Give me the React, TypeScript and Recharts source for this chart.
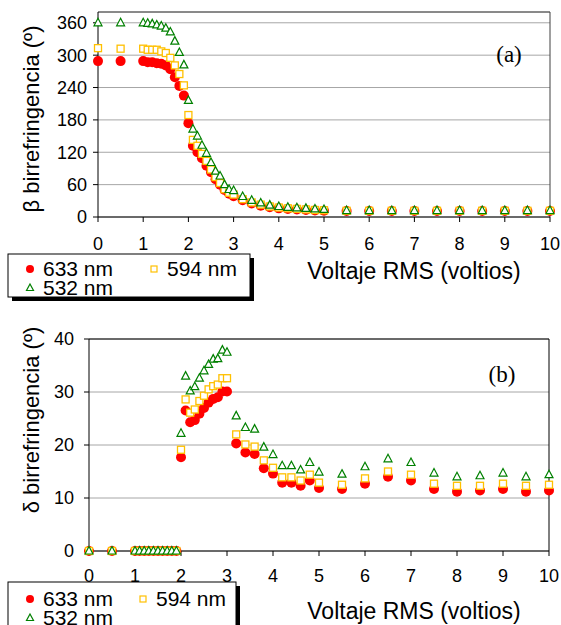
import { CartesianGrid, ReferenceLine, Scatter, ScatterChart, XAxis, YAxis } from "recharts";

// voltaje RMS (V), same sweep for both panels
const volts = [
  0, 0.5, 1.0, 1.1, 1.2, 1.3, 1.4, 1.5, 1.6, 1.7, 1.8, 1.9, 2.0, 2.1, 2.2, 2.3, 2.4, 2.5, 2.6, 2.7,
  2.8, 2.9, 3.0, 3.2, 3.4, 3.6, 3.8, 4.0, 4.2, 4.4, 4.6, 4.8, 5.0, 5.5, 6.0, 6.5, 7.0, 7.5, 8.0,
  8.5, 9.0, 9.5, 10,
];

// (a) beta birrefringencia
const beta633 = [
  289, 289, 289, 287, 287, 285, 284, 281, 274, 259, 243, 225, 174, 132, 120, 109, 95, 83, 70, 60,
  50, 43, 38.5, 31, 25, 21, 18, 16, 15, 14, 13, 12, 11.5, 11, 11, 11, 11, 11, 11, 11, 11, 11, 11,
];
const beta594 = [
  313, 312, 312, 310, 310, 310, 307, 304, 295, 281, 265, 244, 189, 143, 132, 117, 104, 88, 74, 63,
  51.5, 45, 41.6, 33, 27, 23, 19.5, 17.5, 16, 15, 14, 13, 12.5, 11.5, 11.5, 11.5, 11.5, 11.5, 11.5,
  11.5, 11.5, 11.5, 11.5,
];
const beta532 = [
  360, 360, 360, 359, 358, 356, 354, 350, 343, 326, 305, 282, 216, 163, 150, 133, 118, 101, 85, 76,
  60, 51, 49, 38, 31, 26, 22, 19.5, 18, 17, 16, 15, 14, 12, 12, 12, 12, 12, 12, 12, 12, 12, 12,
];

// (b) delta birrefringencia
const delta633 = [
  0, 0, 0, 0, 0, 0, 0, 0, 0, 0, 0, 0, 17.7, 26.5, 24.3, 24.7, 25.9, 27.0, 28.0, 28.7, 29.0, 30.1,
  30.1, 20.3, 18.6, 18.3, 15.6, 14.6, 12.9, 12.9, 12.3, 13.3, 11.9, 11.7, 12.7, 14.0, 13.3, 11.7,
  11.2, 11.4, 11.7, 11.2, 11.4,
];
const delta594 = [
  0, 0, 0, 0, 0, 0, 0, 0, 0, 0, 0, 0, 19.1, 28.6, 26.1, 26.7, 28.3, 29.3, 30.5, 31.1, 31.4, 32.6,
  32.6, 22.0, 20.1, 19.7, 17.1, 15.7, 13.9, 13.9, 13.3, 14.4, 12.9, 12.5, 13.7, 15.0, 14.4, 12.7,
  12.3, 12.3, 12.7, 12.3, 12.5,
];
const delta532 = [
  0, 0, 0, 0, 0, 0, 0, 0, 0, 0, 0, 0, 22.2, 33.0, 30.2, 31.0, 32.6, 34.0, 35.2, 36.2, 36.3, 37.9,
  37.5, 25.5, 23.3, 23.0, 19.6, 18.2, 16.1, 16.1, 15.3, 16.7, 14.9, 14.5, 15.9, 17.4, 16.7, 14.7,
  14.0, 14.2, 14.7, 14.0, 14.4,
];

const xTicks = [0, 1, 2, 3, 4, 5, 6, 7, 8, 9, 10];
const betaTicks = [0, 60, 120, 180, 240, 300, 360];
const deltaTicks = [0, 10, 20, 30, 40];
const seriesNames = ["633 nm", "594 nm", "532 nm"];

const font = "Arial, 'Liberation Sans', sans-serif";
const serif = "'Times New Roman', 'Liberation Serif', serif";
const RED = "#ff0000";
const YEL = "#ffc000";
const GRN = "#008000";

const pts = (ys: number[]) => volts.map((v, i) => ({ v, y: ys[i] }));

const Dot = (p: any) => <circle cx={p.cx} cy={p.cy} r={5} fill={RED} />;
const Sq = (p: any) => (
  <rect x={p.cx - 3.5} y={p.cy - 3.5} width={7} height={7} fill="#fff" stroke={YEL} strokeWidth={1.3} />
);
const Tri = (p: any) => (
  <polygon
    points={`${p.cx},${p.cy - 4.5} ${p.cx + 4},${p.cy + 3} ${p.cx - 4},${p.cy + 3}`}
    fill="#fff"
    stroke={GRN}
    strokeWidth={1.2}
  />
);

const tick = { fill: "#000", fontSize: 18, fontFamily: font };
const axisProps = {
  tick,
  tickSize: 5,
  interval: 0 as const,
  axisLine: { stroke: "#000" },
  tickLine: { stroke: "#000" },
};

function LegendBox({ x, y, w, h, sqX, row1, row2 }: any) {
  return (
    <g fontFamily={font} fontSize={21} fill="#000">
      <rect x={x + 4} y={y + 4} width={w} height={h} fill="#000" />
      <rect x={x} y={y} width={w} height={h} fill="#fff" stroke="#000" strokeWidth={1} />
      <circle cx={30} cy={row1 - 7} r={4} fill={RED} />
      <text x={43} y={row1}>{seriesNames[0]}</text>
      <rect x={sqX - 3} y={row1 - 10} width={6} height={6} fill="#fff" stroke={YEL} strokeWidth={1.2} />
      <text x={sqX + 13} y={row1}>{seriesNames[1]}</text>
      <polygon
        points={`30,${row2 - 11} 33.5,${row2 - 4.5} 26.5,${row2 - 4.5}`}
        fill="#fff"
        stroke={GRN}
        strokeWidth={1.2}
      />
      <text x={43} y={row2}>{seriesNames[2]}</text>
    </g>
  );
}

export default function App() {
  return (
    <div
      style={{
        position: "absolute",
        left: 0,
        top: 0,
        width: 561,
        height: 625,
        overflow: "hidden",
        background: "#fff",
        fontFamily: font,
      }}
    >
      <div style={{ position: "absolute", left: 0, top: 0 }}>
        <ScatterChart width={561} height={262} margin={{ top: 12, right: 11, bottom: 0, left: 0 }}>
          <CartesianGrid vertical={false} stroke="#a6a6a6" />
          <XAxis type="number" dataKey="v" domain={[0, 10]} ticks={xTicks} height={45} tickMargin={15} {...axisProps} />
          <YAxis type="number" dataKey="y" domain={[0, 380]} ticks={betaTicks} width={98} tickMargin={6} {...axisProps} />
          <ReferenceLine y={380} stroke="#404040" />
          <ReferenceLine x={10} stroke="#404040" />
          <Scatter data={pts(beta633)} shape={Dot} isAnimationActive={false} />
          <Scatter data={pts(beta594)} shape={Sq} isAnimationActive={false} />
          <Scatter data={pts(beta532)} shape={Tri} isAnimationActive={false} />
        </ScatterChart>
      </div>
      <div style={{ position: "absolute", left: 0, top: 310 }}>
        <ScatterChart width={561} height={287} margin={{ top: 29, right: 12, bottom: 0, left: 0 }}>
          <CartesianGrid vertical={false} stroke="#a6a6a6" />
          <XAxis type="number" dataKey="v" domain={[0, 10]} ticks={xTicks} height={46} tickMargin={13} {...axisProps} />
          <YAxis type="number" dataKey="y" domain={[0, 40]} ticks={deltaTicks} width={89} tickMargin={10} {...axisProps} />
          <ReferenceLine y={40} stroke="#000" />
          <ReferenceLine x={10} stroke="#000" />
          <Scatter data={pts(delta633)} shape={Dot} isAnimationActive={false} />
          <Scatter data={pts(delta594)} shape={Sq} isAnimationActive={false} />
          <Scatter data={pts(delta532)} shape={Tri} isAnimationActive={false} />
        </ScatterChart>
      </div>
      <svg
        width={561}
        height={625}
        style={{ position: "absolute", left: 0, top: 0, pointerEvents: "none" }}
      >
        <text x={509} y={62} fontFamily={serif} fontSize={23} textAnchor="middle">
          (a)
        </text>
        <text x={502} y={382} fontFamily={serif} fontSize={23} textAnchor="middle">
          (b)
        </text>
        <text transform="translate(39,119) rotate(-90)" fontFamily={font} fontSize={22} textAnchor="middle">
          β birrefringencia (º)
        </text>
        <text transform="translate(39,420) rotate(-90)" fontFamily={font} fontSize={22} textAnchor="middle">
          δ birrefringencia (º)
        </text>
        <text x={414} y={279} fontFamily={font} fontSize={23} textAnchor="middle">
          Voltaje RMS (voltios)
        </text>
        <text x={414} y={619} fontFamily={font} fontSize={23} textAnchor="middle">
          Voltaje RMS (voltios)
        </text>
        <LegendBox x={8} y={254} w={242} h={43} sqX={154} row1={276} row2={295} />
        <LegendBox x={8} y={582} w={228} h={50} sqX={143} row1={606} row2={625} />
      </svg>
    </div>
  );
}
